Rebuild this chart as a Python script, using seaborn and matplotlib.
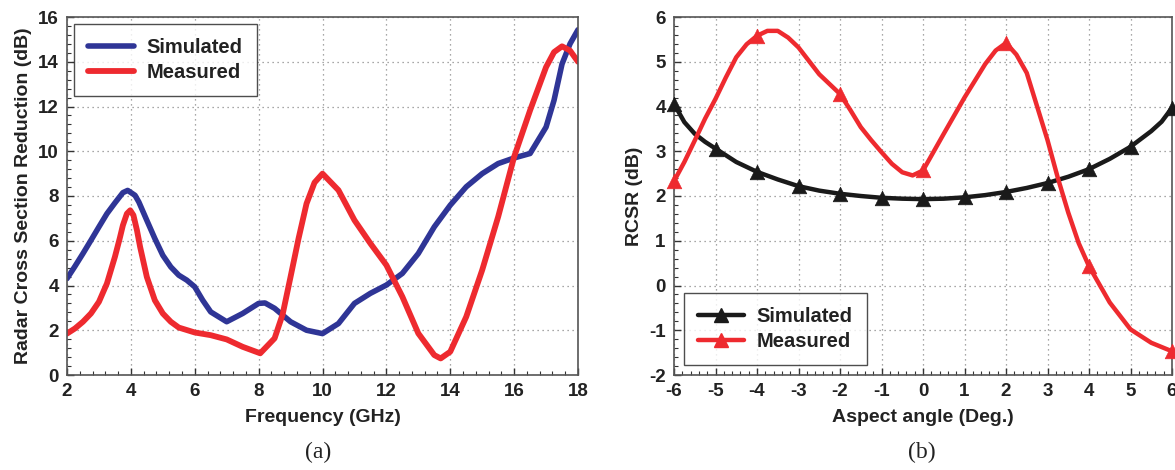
import numpy as np
import pandas as pd
import matplotlib
matplotlib.use("Agg")
import matplotlib.pyplot as plt
import seaborn as sns
from matplotlib.lines import Line2D
from matplotlib.ticker import MultipleLocator

# ---------------- data: panel (a) ----------------
freq_sim = [2, 2.25, 2.5, 2.75, 3, 3.25, 3.5, 3.75, 3.9, 4.13, 4.25, 4.5, 4.75, 5, 5.25,
            5.5, 5.75, 6, 6.25, 6.5, 7, 7.5, 8, 8.2, 8.5, 9, 9.5, 10,
            10.5, 11, 11.5, 12, 12.5, 13, 13.5, 14, 14.5, 15, 15.5, 16, 16.5, 17, 17.25,
            17.5, 17.75, 18]
rcs_sim = [4.31, 4.86, 5.43, 6.02, 6.62, 7.21, 7.69, 8.15, 8.25, 8.03, 7.73, 6.91, 6.1, 5.35,
           4.83, 4.46, 4.24, 3.94, 3.34, 2.82, 2.38, 2.75, 3.2, 3.22, 2.98, 2.38, 2.0, 1.85,
           2.3, 3.2, 3.65, 4.02, 4.54, 5.43, 6.62, 7.59, 8.41, 9.0, 9.45, 9.7, 9.9, 11.08,
           12.28, 13.9, 14.8, 15.43]

freq_meas = [2, 2.25, 2.5, 2.75, 3, 3.25, 3.5, 3.65, 3.75, 3.875, 3.98, 4.08, 4.19, 4.29,
             4.5, 4.75, 5, 5.25, 5.5, 6, 6.5, 7, 7.5, 8.05, 8.5, 8.75,
             9, 9.25, 9.5, 9.75, 10, 10.5, 11, 11.5, 12, 12.5, 13, 13.5, 13.7, 14, 14.5, 15,
             15.5, 16, 16.5, 17, 17.25, 17.5, 17.75, 18]
rcs_meas = [1.85, 2.08, 2.38, 2.75, 3.27, 4.09, 5.28, 6.1, 6.69, 7.21, 7.36, 7.14, 6.47, 5.72,
            4.38, 3.34, 2.75, 2.38, 2.12, 1.9, 1.78, 1.59, 1.26, 0.97, 1.64, 2.7,
            4.39, 6.1, 7.66, 8.6, 9.0, 8.26, 6.92, 5.88, 4.91, 3.5, 1.86, 0.89, 0.74, 1.04,
            2.6, 4.69, 7.07, 9.75, 11.83, 13.76, 14.43, 14.69, 14.5, 14.0]

# ---------------- data: panel (b) ----------------
ang_sim = [-6, -5.75, -5.5, -5.25, -5, -4.5, -4, -3.5, -3, -2.5, -2, -1.5, -1, -0.5, 0, 0.5,
           1, 1.5, 2, 2.5, 3, 3.5, 4, 4.5, 5, 5.5, 5.75, 6]
rcsr_sim = [4.06, 3.65, 3.39, 3.21, 3.06, 2.76, 2.54, 2.37, 2.22, 2.12, 2.05, 2.0, 1.96, 1.94,
            1.93, 1.94, 1.97, 2.02, 2.09, 2.18, 2.29, 2.43, 2.6, 2.83, 3.1, 3.45, 3.66, 3.97]

ang_meas = [-6, -5.75, -5.5, -5.25, -5, -4.75, -4.5, -4.25, -4, -3.75, -3.5, -3.25, -3,
            -2.75, -2.5, -2.25, -2, -1.75, -1.5, -1.25, -1, -0.75, -0.5, -0.25, 0, 0.5, 1,
            1.5, 1.75, 2, 2.25, 2.5, 2.75, 3, 3.25, 3.5, 3.75, 4, 4.5, 5, 5.5, 6]
rcsr_meas = [2.33, 2.76, 3.24, 3.73, 4.17, 4.65, 5.1, 5.39, 5.58, 5.69, 5.69, 5.54, 5.32,
             5.02, 4.72, 4.5, 4.28, 3.92, 3.54, 3.25, 2.98, 2.72, 2.53, 2.46, 2.57, 3.39,
             4.2, 4.95, 5.25, 5.42, 5.16, 4.75, 4.0, 3.25, 2.4, 1.63, 0.95, 0.43, -0.38,
             -0.98, -1.28, -1.47]

series_names = ["Simulated", "Measured"]
a_xticks = [2, 4, 6, 8, 10, 12, 14, 16, 18]
a_yticks = [0, 2, 4, 6, 8, 10, 12, 14, 16]
b_xticks = list(range(-6, 7))
b_yticks = list(range(-2, 7))

BLUE = "#2F3596"
RED = "#EE2A2F"
BLACK = "#1A1A1A"

sns.set_theme(style="ticks")
plt.rcParams["font.family"] = ["Liberation Sans", "DejaVu Sans"]
plt.rcParams["font.weight"] = "bold"
plt.rcParams["axes.labelweight"] = "bold"
plt.rcParams["axes.unicode_minus"] = False
plt.rcParams["lines.solid_joinstyle"] = "round"
plt.rcParams["lines.solid_capstyle"] = "round"

fig = plt.figure(figsize=(11.75, 4.7), dpi=100)
W, H = 1175, 470
ax1 = fig.add_axes([67 / W, 95 / H, 511 / W, 358 / H])
ax2 = fig.add_axes([674 / W, 95 / H, 498 / W, 358 / H])

df_a_sim = pd.DataFrame({"x": freq_sim, "y": rcs_sim})
df_a_meas = pd.DataFrame({"x": freq_meas, "y": rcs_meas})
df_b_sim = pd.DataFrame({"x": ang_sim, "y": rcsr_sim})
df_b_meas = pd.DataFrame({"x": ang_meas, "y": rcsr_meas})


def style_axes(ax, xticks, yticks, xminor, yminor):
    ax.set_xticks(xticks)
    ax.set_yticks(yticks)
    ax.xaxis.set_minor_locator(MultipleLocator(xminor))
    ax.yaxis.set_minor_locator(MultipleLocator(yminor))
    ax.set_xlim(xticks[0], xticks[-1])
    ax.set_ylim(yticks[0], yticks[-1])
    ax.grid(True, which="major", ls=(0, (1, 3)), color="#8a8a8a", lw=0.9)
    ax.set_axisbelow(True)
    for sp in ax.spines.values():
        sp.set_color("#555555")
        sp.set_linewidth(1.2)
    ax.tick_params(which="major", direction="in", length=5, width=1, color="#333333",
                   labelsize=13.5, pad=6)
    ax.tick_params(which="minor", direction="in", length=3, width=0.8, color="#333333")
    for lab in ax.get_xticklabels() + ax.get_yticklabels():
        lab.set_fontweight("bold")
        lab.set_color("#222222")


def style_legend(leg):
    leg.get_frame().set_linewidth(1.0)
    for t in leg.get_texts():
        t.set_fontweight("bold")
        t.set_color("#222222")


# ---- panel (a) ----
sns.lineplot(data=df_a_sim, x="x", y="y", ax=ax1, color=BLUE, lw=4.0, sort=False,
             estimator=None, legend=False)
sns.lineplot(data=df_a_meas, x="x", y="y", ax=ax1, color=RED, lw=4.2, sort=False,
             estimator=None, legend=False)
style_axes(ax1, a_xticks, a_yticks, 0.4, 0.4)
ax1.set_xlabel("Frequency (GHz)", fontsize=14, fontweight="bold", color="#222222", labelpad=6)
ax1.set_ylabel("Radar Cross Section Reduction (dB)", fontsize=14, fontweight="bold",
               color="#222222", labelpad=4)
h_a = [Line2D([0], [0], color=BLUE, lw=4.0), Line2D([0], [0], color=RED, lw=4.2)]
leg = ax1.legend(h_a, series_names, loc="upper left", fontsize=14.5, frameon=True,
                 fancybox=False, edgecolor="#222222", handlelength=2.3, borderpad=0.7,
                 labelspacing=0.3, borderaxespad=0.35, handletextpad=0.6)
style_legend(leg)

# ---- panel (b) ----
sns.lineplot(data=df_b_sim, x="x", y="y", ax=ax2, color=BLACK, lw=3.2, sort=False,
             estimator=None, legend=False)
sns.lineplot(data=df_b_meas, x="x", y="y", ax=ax2, color=RED, lw=3.2, sort=False,
             estimator=None, legend=False)
mk_sim = df_b_sim[df_b_sim["x"] % 1 == 0]
mk_meas = df_b_meas[df_b_meas["x"] % 2 == 0]
sns.scatterplot(data=mk_sim, x="x", y="y", ax=ax2, marker="^", s=110, color=BLACK,
                edgecolor=BLACK, linewidth=0.5, legend=False, clip_on=False, zorder=5)
sns.scatterplot(data=mk_meas, x="x", y="y", ax=ax2, marker="^", s=110, color=RED,
                edgecolor=RED, linewidth=0.5, legend=False, clip_on=False, zorder=5)
style_axes(ax2, b_xticks, b_yticks, 0.2, 0.2)
ax2.set_xlabel("Aspect angle (Deg.)", fontsize=14, fontweight="bold", color="#222222",
               labelpad=6)
ax2.set_ylabel("RCSR (dB)", fontsize=14, fontweight="bold", color="#222222", labelpad=4)
h_b = [Line2D([0], [0], color=BLACK, lw=3.2, marker="^", markersize=10),
       Line2D([0], [0], color=RED, lw=3.2, marker="^", markersize=10)]
leg2 = ax2.legend(h_b, series_names, loc="lower left", fontsize=14.5, frameon=True,
                  fancybox=False, edgecolor="#222222", handlelength=2.3, borderpad=0.7,
                  labelspacing=0.3, borderaxespad=0.5, handletextpad=0.6)
style_legend(leg2)

fig.text(318 / W, 1 - 452 / H, "(a)", family="Liberation Serif", fontsize=17,
         fontweight="normal", ha="center", va="center", color="#222222")
fig.text(922 / W, 1 - 452 / H, "(b)", family="Liberation Serif", fontsize=17,
         fontweight="normal", ha="center", va="center", color="#222222")

fig.savefig("out.png", dpi=100)
